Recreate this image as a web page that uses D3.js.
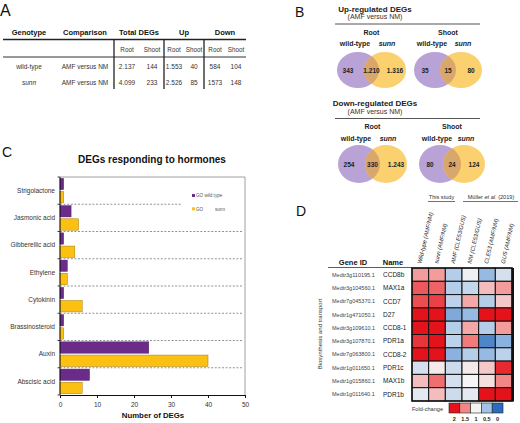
<!DOCTYPE html>
<html><head><meta charset="utf-8">
<script src="https://cdn.jsdelivr.net/npm/d3@7"></script>
<style>
body{margin:0;background:#fff}
svg{font-family:"Liberation Sans",Arial,Helvetica,sans-serif;display:block}
</style>
</head><body>
<svg id="fig" width="520" height="423"></svg>
<script>
// ---------------- DATA ----------------
// Panel A table
const tableHeaders = ["Genotype","Comparison","Total DEGs","Up","Down"];
const tableSubHeaders = ["Root","Shoot","Root","Shoot","Root","Shoot"];
const tableGenotypes = ["wild-type","sunn"];
const tableComparisons = ["AMF versus NM","AMF versus NM"];
const tableWildType = ["2.137","144","1.553","40","584","104"];
const tableSunn = ["4.099","233","2.526","85","1573","148"];

// Panel B Venn counts [wild-type only, shared, sunn only]
const vennUpRoot = [343,1210,1316];
const vennUpShoot = [35,15,80];
const vennDownRoot = [254,330,1243];
const vennDownShoot = [80,24,124];

// Panel C bars
const hormones = ["Strigolactone","Jasmonic acid","Gibberellic acid","Ethylene","Cytokinin","Brassinosteroid","Auxin","Abscisic acid"];
const goWildType = [1,3,1,2,1,1,24,8];
const goSunn = [1,5,4,2,6,1,40,6];
const xTicks = [0,10,20,30,40,50];

// Panel D heatmap
const geneIds = ["Medtr3g110195.1","Medtr3g104560.1","Medtr7g045370.1","Medtr1g471050.1","Medtr3g109610.1","Medtr3g107870.1","Medtr7g063800.1","Medtr1g011650.1","Medtr1g015860.1","Medtr1g011640.1"];
const geneNames = ["CCD8b","MAX1a","CCD7","D27","CCD8-1","PDR1a","CCD8-2","PDR1c","MAX1b","PDR1b"];
const hmColumns = ["Wild-type (AMF/NM)","sunn (AMF/NM)","AMF (CLE53/GUS)","NM (CLE53/GUS)","CLE53 (AMF/NM)","GUS (AMF/NM)"];
const fcWildType = [1.4,1.7,1.75,2.0,2.0,1.85,2.0,0.8,1.25,0.9];
const fcSunn     = [1.4,1.65,1.8,2.0,2.0,2.0,2.0,1.05,1.6,1.25];
const fcAmfCle   = [0.6,0.6,0.65,0.35,0.6,0.65,0.4,0.75,0.8,0.75];
const fcNmCle    = [0.95,0.7,1.35,0.45,1.35,1.55,0.6,1.05,1.0,0.9];
const fcCle53    = [0.45,1.25,0.6,2.0,0.6,0.15,0.45,1.2,1.1,2.0];
const fcGus      = [0.8,1.4,1.2,2.0,1.4,0.4,0.65,1.9,1.5,2.0];
const foldLegend = [2,1.5,1,0.5,0];

// ---------------- DRAW ----------------
const svg = d3.select("#fig");
const fmt = d3.formatLocale({decimal:",",thousands:".",grouping:[3],currency:["",""]}).format(",d");
const PURPLE = "#6b2b88", YELLOW = "#fcc012";

function letter(t,x,y,s){svg.append("text").attr("x",x).attr("y",y).attr("font-size",s||14).attr("fill","#111").text(t);}

// ===== Panel A =====
letter("A",0,16,16);
const gA = svg.append("g");
const hdrX = [29,85,139,184,225];
gA.selectAll("text.h").data(tableHeaders).join("text")
  .attr("x",(d,i)=>hdrX[i]).attr("y",35).attr("text-anchor","middle")
  .attr("font-size",7.5).attr("font-weight","bold").attr("fill","#111").text(d=>d);
gA.append("line").attr("x1",3).attr("x2",246).attr("y1",39.5).attr("y2",39.5).attr("stroke","#222").attr("stroke-width",1.5);
gA.append("line").attr("x1",3).attr("x2",246).attr("y1",57).attr("y2",57).attr("stroke","#333").attr("stroke-width",1);
[114,164,204].forEach(x=>gA.append("line").attr("x1",x).attr("x2",x).attr("y1",39.5).attr("y2",89).attr("stroke","#222").attr("stroke-width",1.3));
const valX = [127,152,174,194,215,236];
gA.selectAll("text.s").data(tableSubHeaders).join("text")
  .attr("x",(d,i)=>valX[i]).attr("y",51.5).attr("text-anchor","middle")
  .attr("font-size",6.3).attr("fill","#333").text(d=>d);
const rowsY = [68.5,84.5];
[tableWildType,tableSunn].forEach((row,r)=>{
  gA.append("text").attr("x",29).attr("y",rowsY[r]).attr("text-anchor","middle").attr("font-size",6.5).attr("fill","#333")
    .attr("font-style",r===1?"italic":"normal").text(tableGenotypes[r]);
  gA.append("text").attr("x",85).attr("y",rowsY[r]).attr("text-anchor","middle").attr("font-size",6.5).attr("fill","#333").text(tableComparisons[r]);
  gA.selectAll(null).data(row).join("text").attr("x",(d,i)=>valX[i]).attr("y",rowsY[r]).attr("text-anchor","middle")
    .attr("font-size",6.5).attr("fill","#333").text(d=>d);
});

// ===== Panel B =====
letter("B",295,17,14);
function vennBlock(title,topY){
  const g = svg.append("g");
  g.append("text").attr("x",375).attr("y",topY).attr("text-anchor","middle").attr("font-size",8).attr("font-weight","bold").attr("fill","#222").text(title);
  g.append("text").attr("x",375).attr("y",topY+7.5).attr("text-anchor","middle").attr("font-size",7).attr("fill","#333").text("(AMF versus NM)");
  g.append("line").attr("x1",335).attr("x2",480).attr("y1",topY+12.5).attr("y2",topY+12.5).attr("stroke","#555").attr("stroke-width",1);
  return g;
}
let clipId=0;
function venn(g,label,counts,pcx,ocx,cy,rx,ry,labY,subY){
  const mid=(pcx+ocx)/2;
  g.append("text").attr("x",mid).attr("y",labY).attr("text-anchor","middle").attr("font-size",7).attr("font-weight","bold").attr("fill","#222").text(label);
  g.append("text").attr("x",pcx-3).attr("y",subY).attr("text-anchor","middle").attr("font-size",7).attr("font-weight","bold").attr("fill","#222").text("wild-type");
  g.append("text").attr("x",ocx+2).attr("y",subY).attr("text-anchor","middle").attr("font-size",7).attr("font-weight","bold").attr("font-style","italic").attr("fill","#222").text("sunn");
  const id="vc"+(clipId++);
  g.append("clipPath").attr("id",id).append("ellipse").attr("cx",pcx).attr("cy",cy).attr("rx",rx).attr("ry",ry);
  g.append("ellipse").attr("cx",pcx).attr("cy",cy).attr("rx",rx).attr("ry",ry).attr("fill","#b9a2d5");
  g.append("ellipse").attr("cx",ocx).attr("cy",cy).attr("rx",rx).attr("ry",ry).attr("fill","#fbd06f");
  g.append("ellipse").attr("cx",ocx).attr("cy",cy).attr("rx",rx).attr("ry",ry).attr("fill","#d9a66c").attr("clip-path","url(#"+id+")");
  const xs=[pcx-10,mid,ocx+10];
  g.selectAll(null).data(counts).join("text").attr("x",(d,i)=>xs[i]).attr("y",cy+2.5).attr("text-anchor","middle")
    .attr("font-size",6.5).attr("font-weight","bold").attr("fill","#222").text(d=>fmt(d));
}
const gUp = vennBlock("Up-regulated DEGs",11.5);
venn(gUp,"Root",vennUpRoot,358,385,70,21,18,35,46);
venn(gUp,"Shoot",vennUpShoot,435,461,70,21,18,35,46);
const gDn = vennBlock("Down-regulated DEGs",106);
venn(gDn,"Root",vennDownRoot,359,386,164,21,19,129,141);
venn(gDn,"Shoot",vennDownShoot,440,464,164,21,19,129,141);

// ===== Panel C =====
letter("C",2,157,14);
const gC = svg.append("g");
gC.append("text").attr("x",152).attr("y",162.5).attr("text-anchor","middle").attr("font-size",10).attr("font-weight","bold").attr("fill","#111").text("DEGs responding to hormones");
const x = d3.scaleLinear().domain([0,50]).range([60,245]);
const y = d3.scaleBand().domain(hormones).range([177,395]);
const inner = d3.scaleBand().domain(["wt","sunn"]).range([0,y.bandwidth()]).paddingInner(0.14).paddingOuter(0.1);
gC.append("path").attr("d",`M60,177H245V395`).attr("fill","none").attr("stroke","#888").attr("stroke-width",0.8);
hormones.slice(1).forEach((h,i)=>{
  const yy=y(h);
  gC.append("line").attr("x1",60).attr("x2",i===0?182:243).attr("y1",yy).attr("y2",yy)
    .attr("stroke","#777").attr("stroke-width",0.8).attr("stroke-dasharray","2,1.6");
});
gC.selectAll("rect.wt").data(hormones).join("rect")
  .attr("x",x(0)).attr("y",d=>y(d)+inner("wt")).attr("height",inner.bandwidth())
  .attr("width",(d,i)=>x(goWildType[i])-x(0)).attr("fill",PURPLE).attr("stroke","#4d1d63").attr("stroke-width",0.4);
gC.selectAll("rect.sn").data(hormones).join("rect")
  .attr("x",x(0)).attr("y",d=>y(d)+inner("sunn")).attr("height",inner.bandwidth())
  .attr("width",(d,i)=>x(goSunn[i])-x(0)).attr("fill",YELLOW).attr("stroke","#a47d00").attr("stroke-width",0.5);
gC.append("line").attr("x1",60).attr("x2",60).attr("y1",177).attr("y2",395).attr("stroke","#111").attr("stroke-width",1);
hormones.concat([null]).forEach((h)=>{
  const yy = h===null?395:y(h);
  gC.append("line").attr("x1",57.5).attr("x2",60).attr("y1",yy).attr("y2",yy).attr("stroke","#111").attr("stroke-width",0.8);
});
gC.selectAll("text.cat").data(hormones).join("text")
  .attr("x",55).attr("y",d=>y(d)+y.bandwidth()/2+2.2).attr("text-anchor","end")
  .attr("font-size",6.5).attr("fill","#333").text(d=>d);
const xa = gC.append("g").attr("transform","translate(0,395)")
  .call(d3.axisBottom(x).tickValues(xTicks).tickSize(3).tickSizeOuter(0));
xa.select(".domain").attr("stroke","#111");
xa.selectAll(".tick line").attr("stroke","#111");
xa.selectAll(".tick text").attr("font-size",6.5).attr("fill","#333").attr("font-family","Liberation Sans, Arial, sans-serif").attr("dy","0.9em");
gC.append("text").attr("x",153).attr("y",418).attr("text-anchor","middle").attr("font-size",7.8).attr("font-weight","bold").attr("fill","#111").text("Number of DEGs");
gC.append("rect").attr("x",192).attr("y",194).attr("width",3).attr("height",3).attr("fill",PURPLE);
gC.append("text").attr("x",196).attr("y",197.3).attr("font-size",4.6).attr("fill","#555").text("GO wild type");
gC.append("rect").attr("x",192).attr("y",207.3).attr("width",3).attr("height",3).attr("fill",YELLOW);
gC.append("text").attr("x",196).attr("y",210.5).attr("font-size",4.6).attr("fill","#555").text("GO");
gC.append("text").attr("x",215).attr("y",210.5).attr("font-size",4.6).attr("fill","#555").text("sunn");

// ===== Panel D =====
letter("D",296,216,14);
const gD = svg.append("g");
const color = d3.scaleLinear().domain([0,0.5,1,1.5,2]).range(["#2a6cbd","#a3c3e6","#f6f4f4","#f28686","#e4131b"]).clamp(true);
const hx = d3.scaleBand().domain(hmColumns).range([412,512]);
const hy = d3.scaleBand().domain(geneIds).range([268,401]);
const fcCols = [fcWildType,fcSunn,fcAmfCle,fcNmCle,fcCle53,fcGus];
gD.append("text").attr("x",441.5).attr("y",199).attr("text-anchor","middle").attr("font-size",5.6).attr("fill","#333").text("This study");
gD.append("line").attr("x1",428).attr("x2",455).attr("y1",201.5).attr("y2",201.5).attr("stroke","#333").attr("stroke-width",0.7);
const mu = gD.append("text").attr("x",491).attr("y",199).attr("text-anchor","middle").attr("font-size",5.6).attr("fill","#333");
mu.append("tspan").text("Müller ");
mu.append("tspan").attr("font-style","italic").text("et al.");
mu.append("tspan").text(" (2019)");
gD.append("line").attr("x1",463).attr("x2",518).attr("y1",201.5).attr("y2",201.5).attr("stroke","#333").attr("stroke-width",0.7);
gD.selectAll("text.col").data(hmColumns).join("text")
  .attr("transform",d=>`translate(${hx(d)+hx.bandwidth()/2+1},264) rotate(-77)`)
  .attr("font-size",5.8).attr("font-style","italic").attr("fill","#222").text(d=>d);
gD.append("text").attr("x",353).attr("y",265).attr("text-anchor","middle").attr("font-size",7.5).attr("font-weight","bold").attr("fill","#111").text("Gene ID");
gD.append("text").attr("x",393).attr("y",265).attr("text-anchor","middle").attr("font-size",7.5).attr("font-weight","bold").attr("fill","#111").text("Name");
gD.append("line").attr("x1",328).attr("x2",412).attr("y1",267.5).attr("y2",267.5).attr("stroke","#333").attr("stroke-width",0.8);
gD.selectAll("text.gid").data(geneIds).join("text")
  .attr("x",332).attr("y",d=>hy(d)+hy.bandwidth()/2+2).attr("font-size",5.5).attr("fill","#444").text(d=>d);
gD.selectAll("text.gname").data(geneNames).join("text")
  .attr("x",383).attr("y",(d,i)=>hy(geneIds[i])+hy.bandwidth()/2+2.3).attr("font-size",6.5).attr("fill","#222").text(d=>d);
gD.append("text").attr("transform","translate(322,334) rotate(-90)").attr("text-anchor","middle")
  .attr("font-size",6).attr("fill","#333").text("Biosynthesis and transport");
fcCols.forEach((col,c)=>{
  gD.selectAll(null).data(col).join("rect")
    .attr("x",hx(hmColumns[c])).attr("y",(d,i)=>hy(geneIds[i]))
    .attr("width",hx.bandwidth()).attr("height",hy.bandwidth())
    .attr("fill",d=>color(d)).attr("stroke","#111").attr("stroke-width",1);
});
gD.append("rect").attr("x",412).attr("y",268).attr("width",100).attr("height",133).attr("fill","none").attr("stroke","#111").attr("stroke-width",1.4);
gD.append("line").attr("x1",513).attr("x2",513).attr("y1",268).attr("y2",401.5).attr("stroke","#111").attr("stroke-width",2);
const lx = d3.scaleBand().domain(foldLegend).range([449,503]);
gD.append("text").attr("x",443).attr("y",410.5).attr("text-anchor","end").attr("font-size",5.6).attr("fill","#333").text("Fold-change");
gD.selectAll("rect.leg").data(foldLegend).join("rect")
  .attr("x",d=>lx(d)).attr("y",403).attr("width",lx.bandwidth()).attr("height",10)
  .attr("fill",d=>color(d)).attr("stroke","#222").attr("stroke-width",0.6);
gD.selectAll("text.leg").data(foldLegend).join("text")
  .attr("x",d=>lx(d)+lx.bandwidth()/2).attr("y",420.5).attr("text-anchor","middle")
  .attr("font-size",5.5).attr("font-weight","bold").attr("fill","#222").text(d=>d);
</script>
</body></html>
